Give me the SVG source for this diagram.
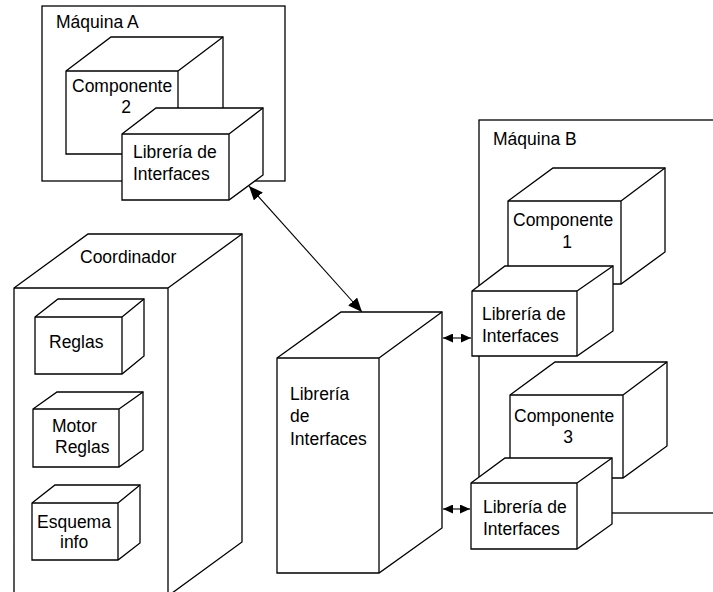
<svg xmlns="http://www.w3.org/2000/svg" width="713" height="592" viewBox="0 0 713 592">
  <style>
    .edge { fill: #fff; stroke: #000; stroke-width: 1.3; stroke-linejoin: miter; }
    .inner { fill: none; stroke: #000; stroke-width: 1.3; }
    .frame { fill: #fff; stroke: #000; stroke-width: 1.3; }
    .lbl { font-family: "Liberation Sans", Arial, sans-serif; font-size: 17.5px; fill: #000; }
    .mid { text-anchor: middle; }
    .conn { fill: none; stroke: #000; stroke-width: 1.1; }
  </style>
  <defs>
    <marker id="bigHead" viewBox="0 0 14 12" markerWidth="14" markerHeight="12" refX="14" refY="6" markerUnits="userSpaceOnUse" orient="auto-start-reverse">
      <path d="M0,0 L14,6 L0,12 Z" fill="#000"/>
    </marker>
    <marker id="smallHead" viewBox="0 0 10 9" markerWidth="10" markerHeight="9" refX="10" refY="4.5" markerUnits="userSpaceOnUse" orient="auto-start-reverse">
      <path d="M0,0 L10,4.5 L0,9 Z" fill="#000"/>
    </marker>
  </defs>

  <rect width="713" height="592" fill="#fff"/>

  <!-- Machine A -->
  <g id="maquinaA">
    <rect class="frame" x="42" y="6" width="243" height="175"/>
    <text class="lbl" x="56" y="28">Máquina A</text>
  </g>
  <g id="componente2">
    <path class="edge" d="M66,71 L111,37 L223,37 L223,120 L178,154 L66,154 Z"/>
    <path class="inner" d="M66,71 L178,71 L178,154 M178,71 L223,37"/>
    <text class="lbl" x="72" y="92">Componente</text>
    <text class="lbl mid" x="126" y="113">2</text>
  </g>
  <g id="libreriaA">
    <path class="edge" d="M122,134 L156,108 L263,108 L263,175 L229,200 L122,200 Z"/>
    <path class="inner" d="M122,134 L229,134 L229,200 M229,134 L263,108"/>
    <text class="lbl" x="133" y="158">Librería de</text>
    <text class="lbl" x="133" y="180">Interfaces</text>
  </g>

  <!-- Coordinator -->
  <g id="coordinador">
    <path class="edge" d="M14,288 L88,234 L242,234 L242,542 L168,596 L14,596 Z"/>
    <path class="inner" d="M14,288 L168,288 L168,596 M168,288 L242,234"/>
    <text class="lbl" x="80" y="263">Coordinador</text>
  </g>
  <g id="reglas">
    <path class="edge" d="M35,317 L58,299 L144,299 L144,356 L122,374 L35,374 Z"/>
    <path class="inner" d="M35,317 L122,317 L122,374 M122,317 L144,299"/>
    <text class="lbl" x="49" y="348">Reglas</text>
  </g>
  <g id="motorReglas">
    <path class="edge" d="M33,409 L57,392 L143,392 L143,450 L119,467 L33,467 Z"/>
    <path class="inner" d="M33,409 L119,409 L119,467 M119,409 L143,392"/>
    <text class="lbl" x="52" y="432">Motor</text>
    <text class="lbl" x="55" y="453">Reglas</text>
  </g>
  <g id="esquemaInfo">
    <path class="edge" d="M32,503 L55,485 L140,485 L140,543 L118,560 L32,560 Z"/>
    <path class="inner" d="M32,503 L118,503 L118,560 M118,503 L140,485"/>
    <text class="lbl" x="37" y="528">Esquema</text>
    <text class="lbl" x="60" y="548">info</text>
  </g>

  <!-- Central interface library -->
  <g id="libreriaCentral">
    <path class="edge" d="M277,358 L341,312 L442,312 L442,528 L379,573 L277,573 Z"/>
    <path class="inner" d="M277,358 L379,358 L379,573 M379,358 L442,312"/>
    <text class="lbl" x="290" y="400">Librería</text>
    <text class="lbl" x="290" y="422">de</text>
    <text class="lbl" x="290" y="445">Interfaces</text>
  </g>

  <!-- Machine B -->
  <g id="maquinaB">
    <rect class="frame" x="479" y="120" width="245" height="393"/>
    <text class="lbl" x="493" y="145">Máquina B</text>
  </g>
  <g id="componente1">
    <path class="edge" d="M508,201 L553,168 L665,168 L665,252 L621,284 L508,284 Z"/>
    <path class="inner" d="M508,201 L621,201 L621,284 M621,201 L665,168"/>
    <text class="lbl" x="513" y="226">Componente</text>
    <text class="lbl mid" x="567" y="248">1</text>
  </g>
  <g id="libreriaB1">
    <path class="edge" d="M472,291 L505,266 L613,266 L613,331 L577,356 L472,356 Z"/>
    <path class="inner" d="M472,291 L577,291 L577,356 M577,291 L613,266"/>
    <text class="lbl" x="482" y="320">Librería de</text>
    <text class="lbl" x="482" y="342">Interfaces</text>
  </g>
  <g id="componente3">
    <path class="edge" d="M510,395 L555,362 L667,362 L667,446 L623,478 L510,478 Z"/>
    <path class="inner" d="M510,395 L623,395 L623,478 M623,395 L667,362"/>
    <text class="lbl" x="514" y="422">Componente</text>
    <text class="lbl mid" x="568" y="443">3</text>
  </g>
  <g id="libreriaB2">
    <path class="edge" d="M471,483 L505,458 L612,458 L612,524 L577,549 L471,549 Z"/>
    <path class="inner" d="M471,483 L577,483 L577,549 M577,483 L612,458"/>
    <text class="lbl" x="483" y="513">Librería de</text>
    <text class="lbl" x="483" y="535">Interfaces</text>
  </g>

  <!-- Connectors -->
  <g id="connectors">
    <line class="conn" x1="249" y1="186" x2="362" y2="312" marker-start="url(#bigHead)" marker-end="url(#bigHead)"/>
    <line class="conn" x1="443" y1="338" x2="471" y2="338" marker-start="url(#smallHead)" marker-end="url(#smallHead)"/>
    <line class="conn" x1="443" y1="509" x2="470" y2="509" marker-start="url(#smallHead)" marker-end="url(#smallHead)"/>
  </g>
</svg>
